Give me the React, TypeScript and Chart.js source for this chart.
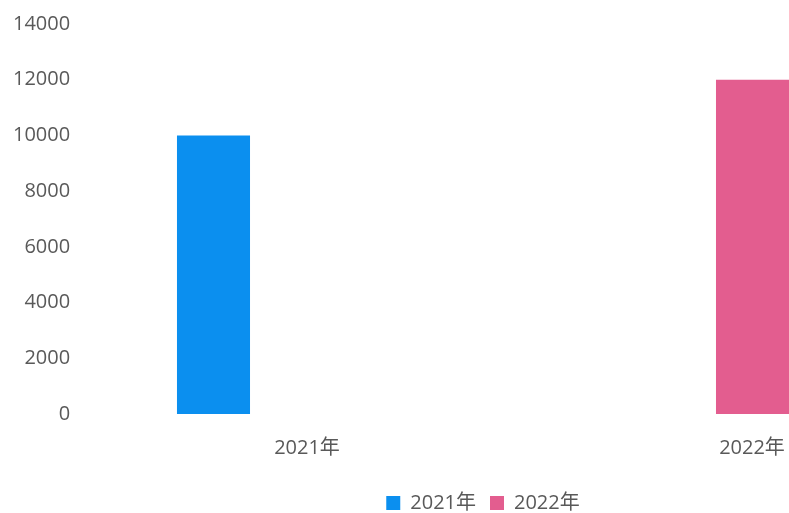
import React, { useEffect, useRef } from "react";
import { Chart, registerables } from "chart.js";

Chart.register(...registerables);

const categories: string[] = ["2021年", "2022年"];
const series2021: (number | null)[] = [10000, null];
const series2022: (number | null)[] = [null, 12000];
const seriesNames: string[] = ["2021年", "2022年"];
const yMin = 0;
const yMax = 14000;
const yStep = 2000;

export default function App() {
  const ref = useRef<HTMLCanvasElement | null>(null);
  useEffect(() => {
    if (!ref.current) return;
    const font = { family: "'Open Sans', 'Noto Sans CJK SC', sans-serif", size: 20 };
    const chart = new Chart(ref.current, {
      type: "bar",
      data: {
        labels: categories,
        datasets: [
          {
            label: seriesNames[0],
            data: series2021,
            backgroundColor: "#0B8FEF",
            borderWidth: 0,
            categoryPercentage: 0.4225,
            barPercentage: 0.777,
          },
          {
            label: seriesNames[1],
            data: series2022,
            backgroundColor: "#E35D8F",
            borderWidth: 0,
            categoryPercentage: 0.4225,
            barPercentage: 0.777,
          },
        ],
      },
      options: {
        animation: false,
        responsive: true,
        maintainAspectRatio: false,
        layout: { padding: { left: 38, top: 24, right: 0, bottom: 0 } },
        plugins: {
          tooltip: { enabled: false },
          legend: {
            position: "bottom",
            labels: {
              font,
              color: "#595959",
              boxWidth: 14,
              boxHeight: 14,
              padding: 14,
            },
          },
        },
        scales: {
          x: {
            grid: { display: false, drawTicks: false },
            border: { display: false },
            ticks: {
              font,
              color: "#595959",
              padding: 22,
              labelOffset: 46.5,
              maxRotation: 0,
              autoSkip: false,
            },
            afterFit: (s: any) => {
              s.height = 65;
            },
          },
          y: {
            min: yMin,
            max: yMax,
            grid: { display: false, drawTicks: false },
            border: { display: false },
            ticks: {
              stepSize: yStep,
              font,
              color: "#595959",
              mirror: true,
              crossAlign: "far",
              padding: -25,
              callback: (v: any) => String(v),
            },
            afterFit: (s: any) => {
              s.width = 0;
            },
          },
        },
      },
    });
    return () => chart.destroy();
  }, []);
  return (
    <div
      style={{
        position: "fixed",
        left: 0,
        top: 0,
        width: 789,
        height: 513,
        overflow: "hidden",
        background: "#fff",
      }}
    >
      <div style={{ position: "relative", width: 928, height: 523 }}>
        <canvas ref={ref} />
      </div>
    </div>
  );
}
